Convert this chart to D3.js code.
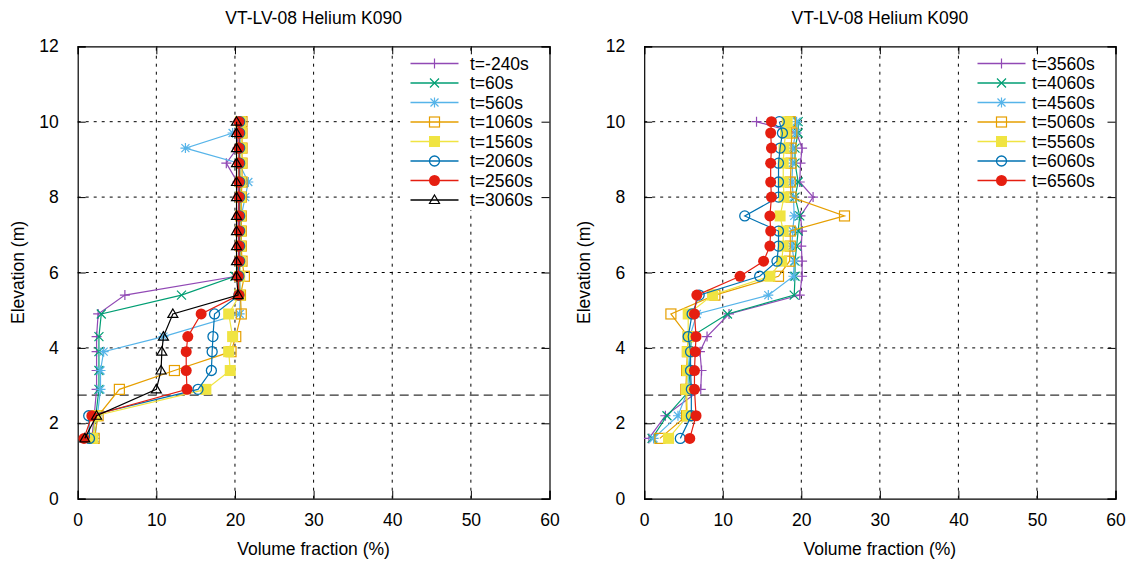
<!DOCTYPE html>
<html>
<head>
<meta charset="utf-8">
<script src="https://cdn.jsdelivr.net/npm/d3@7"></script>
<style>
  html, body { margin: 0; padding: 0; background: #fff; }
  svg { display: block; }
  text { font-family: "Liberation Sans", Arial, Helvetica, sans-serif; fill: #000; }
</style>
</head>
<body>
<svg id="chart" width="1137" height="565"></svg>
<script>
// Measurement elevations (m), top to bottom
const elevations = [10.0, 9.7, 9.3, 8.9, 8.4, 8.0, 7.5, 7.1, 6.7, 6.3, 5.9, 5.4, 4.9, 4.3, 3.9, 3.4, 2.9, 2.2, 1.6];

// Left panel: helium volume fraction (%) per time step
const leftLabels = ["t=-240s", "t=60s", "t=560s", "t=1060s", "t=1560s", "t=2060s", "t=2560s", "t=3060s"];
const vfM240  = [20.5, 20.3, 20.3, 18.9, 20.3, 20.5, 20.4, 20.4, 20.5, 20.4, 20.2, 6.0, 2.6, 2.4, 2.4, 2.4, 2.4, 2.1, 1.8];
const vf60    = [20.6, 20.6, 20.6, 20.5, 20.6, 20.6, 20.6, 20.6, 20.6, 20.6, 20.0, 13.2, 3.0, 2.7, 2.7, 2.7, 2.7, 2.3, 1.9];
const vf560   = [20.7, 19.7, 13.7, 20.5, 21.7, 21.3, 20.8, 20.8, 20.7, 20.7, 20.6, 20.7, 20.6, 10.9, 3.3, 2.9, 2.9, 2.5, 2.2];
const vf1060  = [20.9, 20.9, 20.9, 20.9, 20.9, 20.8, 20.8, 20.8, 20.8, 20.9, 21.2, 20.7, 20.8, 20.1, 19.5, 12.3, 5.3, 2.6, 2.1];
const vf1560  = [20.7, 20.8, 20.8, 20.8, 20.7, 20.7, 20.7, 20.7, 20.7, 20.7, 20.6, 20.6, 19.2, 19.7, 19.2, 19.4, 16.3, 2.3, 1.9];
const vf2060  = [20.6, 20.6, 20.6, 20.6, 20.6, 20.6, 20.6, 20.6, 20.6, 20.6, 20.5, 20.5, 17.4, 17.2, 17.1, 17.0, 15.3, 1.4, 1.5];
const vf2560  = [20.5, 20.5, 20.5, 20.5, 20.5, 20.5, 20.5, 20.5, 20.5, 20.5, 20.4, 20.5, 15.7, 14.0, 13.8, 13.8, 13.9, 1.8, 0.8];
const vf3060  = [20.2, 20.2, 20.2, 20.2, 20.2, 20.2, 20.2, 20.2, 20.2, 20.2, 20.2, 20.4, 12.1, 10.9, 10.7, 10.6, 10.0, 2.4, 0.9];

// Right panel: helium volume fraction (%) per time step
const rightLabels = ["t=3560s", "t=4060s", "t=4560s", "t=5060s", "t=5560s", "t=6060s", "t=6560s"];
const vf3560  = [14.3, 19.4, 20.1, 19.9, 19.8, 21.5, 19.9, 20.1, 20.0, 20.1, 20.1, 19.8, 10.8, 8.0, 7.1, 7.3, 7.2, 2.7, 0.6];
const vf4060  = [19.6, 19.6, 19.2, 19.2, 19.6, 19.2, 19.8, 19.6, 19.4, 19.2, 19.2, 19.1, 10.6, 6.0, 5.9, 5.7, 5.9, 2.9, 1.0];
const vf4560  = [19.4, 19.3, 18.9, 18.9, 18.8, 19.0, 19.1, 18.9, 18.8, 19.1, 19.0, 15.8, 6.7, 5.8, 5.8, 5.6, 5.6, 4.3, 1.2];
const vf5060  = [18.6, 18.8, 18.7, 18.7, 18.6, 18.7, 25.5, 18.6, 18.6, 18.5, 17.1, 9.0, 3.4, 5.6, 5.5, 5.4, 5.3, 5.4, 2.0];
const vf5560  = [18.2, 18.0, 17.8, 17.7, 17.7, 17.8, 17.3, 17.7, 17.7, 17.5, 16.0, 8.7, 5.6, 5.6, 5.5, 5.5, 5.4, 5.5, 3.1];
const vf6060  = [17.2, 17.6, 17.3, 17.1, 17.1, 17.1, 12.8, 17.1, 17.1, 16.9, 14.7, 7.0, 6.1, 5.6, 5.9, 5.9, 6.0, 6.0, 4.6];
const vf6560  = [16.2, 16.1, 16.2, 16.1, 16.1, 16.2, 16.0, 16.1, 16.0, 15.2, 12.2, 6.7, 6.4, 6.6, 6.5, 6.4, 6.4, 6.6, 5.8];

// Axis ticks
const xTicks = [0, 10, 20, 30, 40, 50, 60];
const yTicks = [0, 2, 4, 6, 8, 10, 12];
const refElevation = 2.75;
const titleText = "VT-LV-08 Helium K090";

// Line colours and point types (gnuplot-like order)
const colors = ["#9149b5", "#009e73", "#56b4e9", "#e69f00", "#f0e442", "#0072b2", "#e51e10", "#000000"];
const pointTypes = ["plus", "cross", "star", "square", "squareFilled", "circle", "circleFilled", "triangle"];

const leftSeries = [vfM240, vf60, vf560, vf1060, vf1560, vf2060, vf2560, vf3060];
const rightSeries = [vf3560, vf4060, vf4560, vf5060, vf5560, vf6060, vf6560];

const FS = 17.5;
const svg = d3.select("#chart");

function drawMarker(g, type, x, y, color) {
  const s = 5;
  switch (type) {
    case "plus":
      g.append("path").attr("d", `M${x - s},${y}H${x + s}M${x},${y - s}V${y + s}`)
        .attr("stroke", color).attr("stroke-width", 1.2).attr("fill", "none");
      break;
    case "cross":
      g.append("path").attr("d", `M${x - 4.5},${y - 4.5}L${x + 4.5},${y + 4.5}M${x - 4.5},${y + 4.5}L${x + 4.5},${y - 4.5}`)
        .attr("stroke", color).attr("stroke-width", 1.2).attr("fill", "none");
      break;
    case "star":
      g.append("path").attr("d", `M${x - s},${y}H${x + s}M${x},${y - s}V${y + s}M${x - 4},${y - 4}L${x + 4},${y + 4}M${x - 4},${y + 4}L${x + 4},${y - 4}`)
        .attr("stroke", color).attr("stroke-width", 1.2).attr("fill", "none");
      break;
    case "square":
      g.append("rect").attr("x", x - 5).attr("y", y - 5).attr("width", 10).attr("height", 10)
        .attr("stroke", color).attr("stroke-width", 1.2).attr("fill", "none");
      break;
    case "squareFilled":
      g.append("rect").attr("x", x - 5.5).attr("y", y - 5.5).attr("width", 11).attr("height", 11)
        .attr("fill", color);
      break;
    case "circle":
      g.append("circle").attr("cx", x).attr("cy", y).attr("r", 5)
        .attr("stroke", color).attr("stroke-width", 1.3).attr("fill", "none");
      break;
    case "circleFilled":
      g.append("circle").attr("cx", x).attr("cy", y).attr("r", 5.5).attr("fill", color);
      break;
    case "triangle":
      g.append("path").attr("d", `M${x},${y - 5}L${x + 5},${y + 3.5}L${x - 5},${y + 3.5}Z`)
        .attr("stroke", color).attr("stroke-width", 1.2).attr("fill", "none");
      break;
  }
}

function drawPanel(cfg) {
  const x = d3.scaleLinear().domain([0, 60]).range([cfg.x0, cfg.x1]);
  const y = d3.scaleLinear().domain([0, 12]).range([498.7, 46.3]);
  const g = svg.append("g");

  // Grid
  const grid = g.append("g");
  xTicks.slice(1, -1).forEach(t => {
    grid.append("line").attr("x1", x(t)).attr("x2", x(t)).attr("y1", y(0)).attr("y2", y(12))
      .attr("stroke", "#000").attr("stroke-width", 1).attr("stroke-dasharray", "3,5");
  });
  yTicks.slice(1, -1).forEach(t => {
    grid.append("line").attr("x1", x(0)).attr("x2", x(60)).attr("y1", y(t)).attr("y2", y(t))
      .attr("stroke", "#000").attr("stroke-width", 1).attr("stroke-dasharray", "3,5");
  });

  // Reference elevation line
  g.append("line").attr("x1", x(0)).attr("x2", x(60)).attr("y1", y(refElevation)).attr("y2", y(refElevation))
    .attr("stroke", "#333").attr("stroke-width", 1.2).attr("stroke-dasharray", "9,5");

  // Opaque key background
  g.append("rect").attr("x", cfg.keyX).attr("y", 52).attr("width", cfg.x1 - cfg.keyX - 1)
    .attr("height", cfg.keyH).attr("fill", "#fff");

  // Axes (ticks inward, mirrored)
  const tickLen = 8;
  const axB = d3.axisBottom(x).tickValues(xTicks).tickSize(-tickLen).tickPadding(tickLen + 7).tickFormat(d3.format("d"));
  const axT = d3.axisTop(x).tickValues(xTicks).tickSize(-tickLen).tickFormat("");
  const axL = d3.axisLeft(y).tickValues(yTicks).tickSize(-tickLen).tickPadding(tickLen + 11).tickFormat(d3.format("d"));
  const axR = d3.axisRight(y).tickValues(yTicks).tickSize(-tickLen).tickFormat("");
  const style = sel => {
    sel.select(".domain").attr("stroke", "#000").attr("stroke-width", 1.2);
    sel.selectAll(".tick line").attr("stroke", "#000").attr("stroke-width", 1);
    sel.selectAll(".tick text").attr("font-size", FS).attr("fill", "#000")
      .attr("font-family", "\"Liberation Sans\", Arial, sans-serif");
  };
  g.append("g").attr("transform", `translate(0,${y(0)})`).call(axB).call(style);
  g.append("g").attr("transform", `translate(0,${y(12)})`).call(axT).call(style);
  g.append("g").attr("transform", `translate(${x(0)},0)`).call(axL).call(style);
  g.append("g").attr("transform", `translate(${x(60)},0)`).call(axR).call(style);

  // Data
  const line = d3.line().x(d => x(d[0])).y(d => y(d[1]));
  cfg.series.forEach((vals, i) => {
    const pts = vals.map((v, k) => [v, elevations[k]]);
    const sg = g.append("g");
    sg.append("path").attr("d", line(pts)).attr("fill", "none")
      .attr("stroke", colors[i]).attr("stroke-width", 1.2);
    pts.forEach(p => drawMarker(sg, pointTypes[i], x(p[0]), y(p[1]), colors[i]));
  });

  // Key
  cfg.labels.forEach((lab, i) => {
    const ry = 63.5 + i * 19.5;
    g.append("line").attr("x1", cfg.keyLine0).attr("x2", cfg.keyLine0 + 48).attr("y1", ry).attr("y2", ry)
      .attr("stroke", colors[i]).attr("stroke-width", 1.3);
    drawMarker(g, pointTypes[i], cfg.keyLine0 + 24, ry, colors[i]);
    g.append("text").attr("x", cfg.keyText).attr("y", ry).attr("dy", "0.36em")
      .attr("font-size", FS).text(lab);
  });

  // Title and axis labels
  g.append("text").attr("x", (cfg.x0 + cfg.x1) / 2).attr("y", 23.5).attr("text-anchor", "middle")
    .attr("font-size", FS).text(titleText);
  g.append("text").attr("x", (cfg.x0 + cfg.x1) / 2).attr("y", 555).attr("text-anchor", "middle")
    .attr("font-size", FS).text("Volume fraction (%)");
  g.append("text").attr("transform", `translate(${cfg.x0 - 54},${(y(0) + y(12)) / 2}) rotate(-90)`)
    .attr("text-anchor", "middle").attr("font-size", FS).text("Elevation (m)");
}

drawPanel({ x0: 77.7, x1: 549.5, series: leftSeries, labels: leftLabels,
            keyX: 400, keyH: 158, keyLine0: 410.5, keyText: 470 });
drawPanel({ x0: 644.2, x1: 1115.5, series: rightSeries, labels: rightLabels,
            keyX: 967, keyH: 139, keyLine0: 977.5, keyText: 1032 });
</script>
</body>
</html>
